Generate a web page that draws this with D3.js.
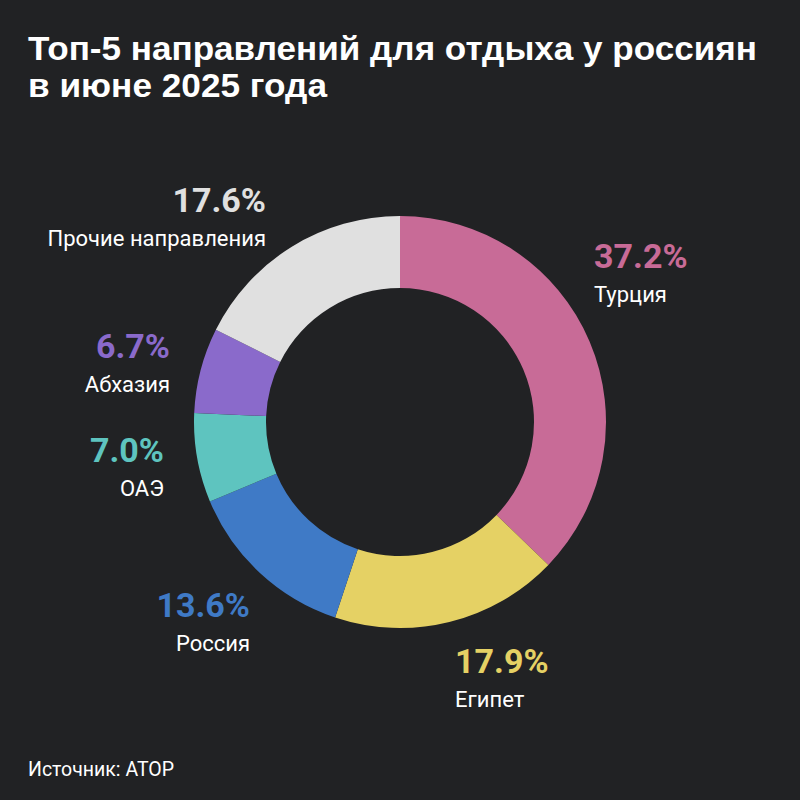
<!DOCTYPE html>
<html><head><meta charset="utf-8">
<script src="https://cdn.jsdelivr.net/npm/d3@7"></script>
<style>
html,body{margin:0;padding:0;background:#212224;}
svg{display:block;}
</style></head>
<body>
<svg id="c" width="800" height="800"></svg>
<script>
const categories = ["Турция","Египет","Россия","ОАЭ","Абхазия","Прочие направления"];
const values = [37.2, 17.9, 13.6, 7.0, 6.7, 17.6];
const valueLabels = ["37.2%","17.9%","13.6%","7.0%","6.7%","17.6%"];
const colors = ["#C86B97","#E5D164","#3F7AC6","#5EC4BF","#8A6ACB","#E0E0E0"];
// label anchor layout (x, y of percent baseline, anchor)
const labelLayout = [
  {x:594, y:268, a:"start"},
  {x:455, y:673, a:"start"},
  {x:250, y:617, a:"end"},
  {x:164, y:462, a:"end"},
  {x:170, y:358, a:"end"},
  {x:266, y:212, a:"end"}
];

const svg = d3.select("#c");
svg.append("rect").attr("width",800).attr("height",800).attr("fill","#212224");

const titleLines = ["Топ-5 направлений для отдыха у россиян", "в июне 2025 года"];
const title = svg.append("text")
  .attr("fill","#ffffff").attr("font-family","'Liberation Sans', Arial, sans-serif")
  .attr("font-weight",700).attr("font-size",33);
title.append("tspan").attr("x",28).attr("y",60)
  .attr("textLength",729).attr("lengthAdjust","spacingAndGlyphs").text(titleLines[0]);
title.append("tspan").attr("x",28).attr("y",97)
  .attr("textLength",299).attr("lengthAdjust","spacingAndGlyphs").text(titleLines[1]);

const cx = 400, cy = 422;
const pie = d3.pie().sort(null).value(d=>d)(values);
const arc = d3.arc().innerRadius(134).outerRadius(206);
const g = svg.append("g").attr("transform",`translate(${cx},${cy})`);
g.selectAll("path").data(pie).join("path")
  .attr("d",arc).attr("fill",(d,i)=>colors[i]);

const lg = svg.append("g");
categories.forEach((c,i)=>{
  const L = labelLayout[i];
  lg.append("text").attr("x",L.x).attr("y",L.y).attr("text-anchor",L.a)
    .attr("fill",colors[i]).attr("font-family","Roboto, sans-serif")
    .attr("font-weight",700).attr("font-size",34).text(valueLabels[i]);
  lg.append("text").attr("x",L.x).attr("y",L.y+34).attr("text-anchor",L.a)
    .attr("fill","#ffffff").attr("font-family","Roboto, sans-serif")
    .attr("font-size",22).text(c);
});

svg.append("text").attr("x",28).attr("y",776).attr("fill","#ffffff")
  .attr("font-family","Roboto, sans-serif").attr("font-size",19.5).text("Источник: АТОР");
</script>
</body></html>
